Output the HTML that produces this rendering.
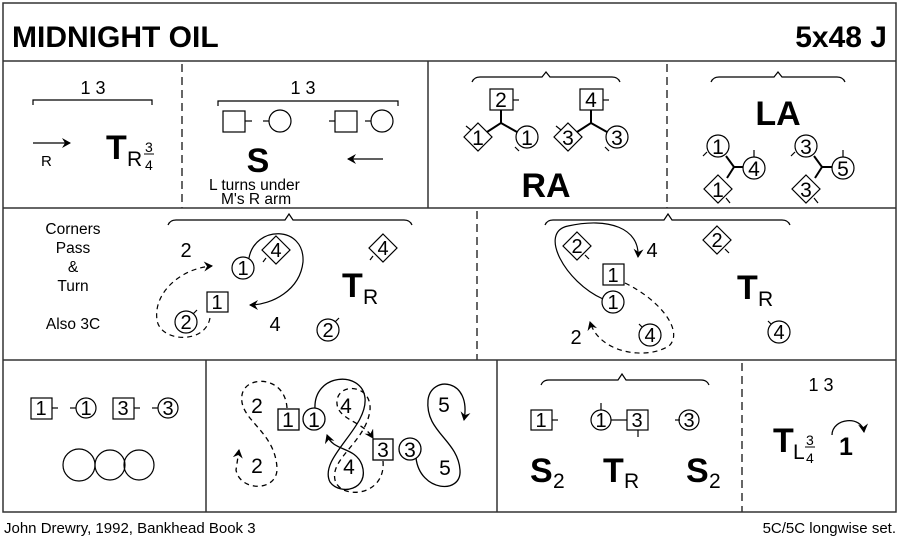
<!DOCTYPE html>
<html><head><meta charset="utf-8"><style>
html,body{margin:0;padding:0;background:#fff}
svg{display:block}
text{font-family:"Liberation Sans",Arial,sans-serif;fill:#000}
</style></head><body>
<svg width="900" height="542" viewBox="0 0 900 542" xmlns="http://www.w3.org/2000/svg">
<defs>
<marker id="ah" markerWidth="10" markerHeight="10" refX="8" refY="5" orient="auto" markerUnits="userSpaceOnUse">
<path d="M0,0 L9,5 L0,10 L3,5 Z" fill="#000"/>
</marker>
</defs>
<g fill="none" stroke="#333" stroke-width="1.5">
<rect x="3" y="3" width="893" height="509"/>
<line x1="3" y1="61" x2="896" y2="61"/>
<line x1="3" y1="208" x2="896" y2="208"/>
<line x1="3" y1="360" x2="896" y2="360"/>
<line x1="428" y1="61" x2="428" y2="208"/>
<line x1="206" y1="360" x2="206" y2="512"/>
<line x1="497" y1="360" x2="497" y2="512"/>
</g>
<g stroke="#333" stroke-width="1.5" stroke-dasharray="8,5">
<line x1="182" y1="64" x2="182" y2="208"/>
<line x1="667" y1="64" x2="667" y2="208"/>
<line x1="477" y1="211" x2="477" y2="360"/>
<line x1="742" y1="363" x2="742" y2="512"/>
</g>

<text x="12" y="47" font-size="30" font-weight="bold">MIDNIGHT OIL</text>
<text x="887" y="47" font-size="30" font-weight="bold" text-anchor="end">5x48 J</text>

<!-- Row1 A -->
<text x="93" y="94" font-size="18" text-anchor="middle">1 3</text>
<path d="M33,105 V100 H152 V105" fill="none" stroke="#000" stroke-width="1.2"/>
<line x1="33" y1="143" x2="70" y2="143" stroke="#000" stroke-width="1.3" marker-end="url(#ah)"/>
<text x="41" y="166" font-size="15">R</text>
<text x="106" y="159" font-size="34" font-weight="bold">T</text>
<text x="127" y="166" font-size="21">R</text>
<text x="145" y="152" font-size="14">3</text>
<line x1="144" y1="154" x2="154" y2="154" stroke="#000"/>
<text x="145" y="170" font-size="14">4</text>

<!-- Row1 B -->
<text x="303" y="94" font-size="18" text-anchor="middle">1 3</text>
<path d="M218,106 V101 H398 V106" fill="none" stroke="#000" stroke-width="1.2"/>
<g fill="none" stroke="#000" stroke-width="1.2">
<rect x="223" y="111" width="22" height="21"/><line x1="245" y1="121" x2="252" y2="121"/>
<line x1="263" y1="121" x2="269" y2="121"/><circle cx="280" cy="121" r="11"/>
<line x1="329" y1="121" x2="335" y2="121"/><rect x="335" y="111" width="22" height="21"/>
<line x1="365" y1="121" x2="371" y2="121"/><circle cx="382" cy="121" r="11"/>
</g>
<text x="258" y="172" font-size="34" font-weight="bold" text-anchor="middle">S</text>
<line x1="383" y1="159" x2="348" y2="159" stroke="#000" stroke-width="1.3" marker-end="url(#ah)"/>
<text x="209" y="190" font-size="15.5">L turns under</text>
<text x="221" y="204" font-size="15.5">M's R arm</text>

<!-- Row1 C: RA -->
<path d="M472,82 Q474,77 480,77 H542 L546,72 L550,77 H612 Q618,77 620,82" fill="none" stroke="#000" stroke-width="1.2"/>
<g fill="none" stroke="#000" stroke-width="1.2">
<rect x="490" y="89" width="23" height="21"/><line x1="513" y1="100" x2="519" y2="100"/>
<path d="M501,110 V123 L487,132 M501,123 L517,132" stroke-width="2"/>
<path d="M478,123 L492,137 L478,151 L464,137 Z"/><line x1="466" y1="126" x2="471" y2="130"/>
<circle cx="527" cy="137" r="11"/><line x1="515" y1="147" x2="519" y2="151"/>
<rect x="580" y="89" width="23" height="21"/><line x1="603" y1="100" x2="609" y2="100"/>
<path d="M591,110 V123 L577,132 M591,123 L607,132" stroke-width="2"/>
<path d="M568,123 L582,137 L568,151 L554,137 Z"/><line x1="556" y1="126" x2="561" y2="130"/>
<circle cx="617" cy="137" r="11"/><line x1="605" y1="147" x2="609" y2="151"/>
</g>
<g font-size="21" text-anchor="middle"><text x="501" y="107">2</text><text x="591" y="107">4</text>
<text x="478" y="145">1</text><text x="527" y="145">1</text><text x="568" y="145">3</text><text x="617" y="145">3</text></g>
<text x="546" y="197" font-size="34" font-weight="bold" text-anchor="middle">RA</text>

<!-- Row1 D: LA -->
<path d="M711,82 Q713,77 719,77 H774 L778,72 L782,77 H837 Q843,77 845,82" fill="none" stroke="#000" stroke-width="1.2"/>
<text x="778" y="125" font-size="34" font-weight="bold" text-anchor="middle">LA</text>
<g fill="none" stroke="#000" stroke-width="1.2">
<circle cx="718" cy="146" r="11"/><line x1="707" y1="152" x2="703" y2="156"/>
<circle cx="754" cy="168" r="11"/><line x1="754" y1="157" x2="754" y2="150"/>
<path d="M718,175 L732,189 L718,203 L704,189 Z"/><line x1="726" y1="198" x2="730" y2="203"/>
<path d="M726,156 L734,167 L743,167 M734,167 L727,178" stroke-width="2"/>
<circle cx="806" cy="146" r="11"/><line x1="795" y1="152" x2="791" y2="156"/>
<circle cx="843" cy="168" r="11"/><line x1="843" y1="157" x2="843" y2="150"/>
<path d="M806,175 L820,189 L806,203 L792,189 Z"/><line x1="814" y1="198" x2="818" y2="203"/>
<path d="M814,156 L822,167 L832,167 M822,167 L815,178" stroke-width="2"/>
</g>
<g font-size="21" text-anchor="middle"><text x="718" y="154">1</text><text x="754" y="176">4</text><text x="718" y="197">1</text>
<text x="806" y="154">3</text><text x="843" y="176">5</text><text x="806" y="197">3</text></g>

<!-- Row2 left -->
<g font-size="15.5" text-anchor="middle"><text x="73" y="234">Corners</text><text x="73" y="253">Pass</text>
<text x="73" y="272">&amp;</text><text x="73" y="291">Turn</text><text x="73" y="329">Also 3C</text></g>
<path d="M168,225 Q170,220 176,220 H285 L289,214 L293,220 H404 Q410,220 412,225" fill="none" stroke="#000" stroke-width="1.2"/>
<text x="186" y="257" font-size="20" text-anchor="middle">2</text>
<text x="275" y="331" font-size="20" text-anchor="middle">4</text>
<g fill="none" stroke="#000" stroke-width="1.2">
<circle cx="243" cy="268" r="11"/>
<path d="M276,236 L290,250 L276,264 L262,250 Z"/><line x1="266" y1="258" x2="263" y2="262"/>
<path d="M249,258 C255,225 305,225 303,262 C300,290 272,305 250,305" marker-end="url(#ah)"/>
<path d="M210,318 C205,345 160,342 157,320 C153,292 182,268 212,266" stroke-dasharray="5,4" marker-end="url(#ah)"/>
<rect x="207" y="292" width="21" height="20"/>
<circle cx="186" cy="322" r="11"/><line x1="193" y1="314" x2="197" y2="310"/>
<path d="M383,234 L397,248 L383,262 L369,248 Z"/><line x1="373" y1="256" x2="370" y2="260"/>
<circle cx="328" cy="330" r="11"/><line x1="335" y1="322" x2="339" y2="318"/>
</g>
<g font-size="20" text-anchor="middle"><text x="243" y="275">1</text><text x="276" y="257">4</text><text x="217" y="309">1</text><text x="186" y="329">2</text>
<text x="383" y="255">4</text><text x="328" y="337">2</text></g>
<text x="342" y="297" font-size="34" font-weight="bold">T</text>
<text x="363" y="304" font-size="21">R</text>

<!-- Row2 right -->
<path d="M545,225 Q547,220 553,220 H664 L668,214 L672,220 H782 Q788,220 790,225" fill="none" stroke="#000" stroke-width="1.2"/>
<g fill="none" stroke="#000" stroke-width="1.2">
<path d="M577,232 L591,246 L577,260 L563,246 Z"/><line x1="585" y1="255" x2="589" y2="259"/>
<path d="M603,299 C565,282 538,232 568,226 C608,217 640,228 638,257" marker-end="url(#ah)"/>
<rect x="603" y="264" width="21" height="21"/>
<circle cx="613" cy="302" r="11"/>
<path d="M625,283 C660,300 683,330 670,345 C650,360 600,355 590,322" stroke-dasharray="5,4" marker-end="url(#ah)"/>
<circle cx="650" cy="335" r="11"/><line x1="642" y1="327" x2="639" y2="324"/>
<path d="M717,226 L731,240 L717,254 L703,240 Z"/><line x1="725" y1="249" x2="729" y2="253"/>
<circle cx="779" cy="332" r="11"/><line x1="771" y1="324" x2="768" y2="321"/>
</g>
<g font-size="20" text-anchor="middle"><text x="577" y="253">2</text><text x="652" y="257">4</text><text x="613" y="282">1</text><text x="613" y="309">1</text>
<text x="650" y="342">4</text><text x="576" y="344">2</text><text x="717" y="247">2</text><text x="779" y="339">4</text></g>
<text x="737" y="299" font-size="34" font-weight="bold">T</text>
<text x="758" y="306" font-size="21">R</text>

<!-- Row3 panel1 -->
<g fill="none" stroke="#000" stroke-width="1.2">
<rect x="31" y="398" width="21" height="21"/><line x1="52" y1="408" x2="58" y2="408"/>
<line x1="70" y1="408" x2="76" y2="408"/><circle cx="86" cy="408" r="10"/>
<rect x="113" y="398" width="21" height="21"/><line x1="134" y1="408" x2="140" y2="408"/>
<line x1="152" y1="408" x2="158" y2="408"/><circle cx="168" cy="408" r="10"/>
<circle cx="79" cy="465" r="16"/><circle cx="110" cy="465" r="15"/><circle cx="139" cy="465" r="15"/>
</g>
<g font-size="20" text-anchor="middle"><text x="41" y="415">1</text><text x="86" y="415">1</text><text x="123" y="415">3</text><text x="168" y="415">3</text></g>

<!-- Row3 panel2 -->
<g fill="none" stroke="#000" stroke-width="1.3">
<path d="M287,408 C285,375 245,375 242,395 C238,420 275,430 277,468 C278,492 240,492 236,470 L239,450" stroke-dasharray="5,4" marker-end="url(#ah)"/>
<path d="M416,458 C420,492 462,495 460,470 C458,440 425,432 428,400 C431,375 472,378 464,420" marker-end="url(#ah)"/>
<path d="M315,409 C313,373 362,370 365,398 C368,428 318,458 330,482 C340,496 370,490 362,465 C355,446 333,452 327,435" marker-end="url(#ah)"/>
<path d="M383,461 C386,497 340,500 335,480 C330,458 366,442 370,410 C372,385 340,382 337,400 C335,420 362,420 373,438" stroke-dasharray="5,4" marker-end="url(#ah)"/>
<rect x="278" y="409" width="21" height="21"/>
<circle cx="314" cy="419" r="11" fill="#fff"/>
<rect x="373" y="439" width="20" height="21" fill="#fff"/>
<circle cx="410" cy="449" r="11"/>
</g>
<g font-size="21" text-anchor="middle"><text x="257" y="413">2</text><text x="257" y="473">2</text><text x="288" y="427">1</text><text x="314" y="427">1</text>
<text x="346" y="413">4</text><text x="349" y="474">4</text><text x="383" y="457">3</text><text x="410" y="457">3</text><text x="444" y="412">5</text><text x="445" y="475">5</text></g>

<!-- Row3 panel3 -->
<path d="M541,385 Q543,380 549,380 H618 L622,374 L626,380 H701 Q707,380 709,385" fill="none" stroke="#000" stroke-width="1.2"/>
<g fill="none" stroke="#000" stroke-width="1.2">
<rect x="531" y="410" width="21" height="20"/><line x1="552" y1="420" x2="558" y2="420"/>
<circle cx="601" cy="420" r="10"/><line x1="601" y1="410" x2="601" y2="403"/>
<line x1="611" y1="420" x2="627" y2="420"/>
<rect x="627" y="410" width="21" height="20"/><line x1="638" y1="430" x2="638" y2="437"/>
<line x1="680" y1="420" x2="675" y2="420"/><circle cx="689" cy="420" r="10"/>
</g>
<g font-size="20" text-anchor="middle"><text x="541" y="427">1</text><text x="601" y="427">1</text><text x="637" y="427">3</text><text x="689" y="427">3</text></g>
<text x="530" y="482" font-size="34" font-weight="bold">S</text><text x="553" y="488" font-size="21">2</text>
<text x="603" y="482" font-size="34" font-weight="bold">T</text><text x="624" y="488" font-size="21">R</text>
<text x="686" y="482" font-size="34" font-weight="bold">S</text><text x="709" y="488" font-size="21">2</text>

<!-- Row3 panel4 -->
<text x="821" y="391" font-size="18" text-anchor="middle">1 3</text>
<text x="773" y="452" font-size="34" font-weight="bold">T</text>
<text x="793" y="459" font-size="21">L</text>
<text x="806" y="445" font-size="14">3</text>
<line x1="805" y1="447" x2="815" y2="447" stroke="#000"/>
<text x="806" y="463" font-size="14">4</text>
<path d="M832,435 C832,418 862,415 864,432" fill="none" stroke="#000" stroke-width="1.3" marker-end="url(#ah)"/>
<text x="846" y="455" font-size="25" font-weight="bold" text-anchor="middle">1</text>

<text x="4" y="533" font-size="15">John Drewry, 1992, Bankhead Book 3</text>
<text x="896" y="533" font-size="15" text-anchor="end">5C/5C longwise set.</text>
</svg>
</body></html>
